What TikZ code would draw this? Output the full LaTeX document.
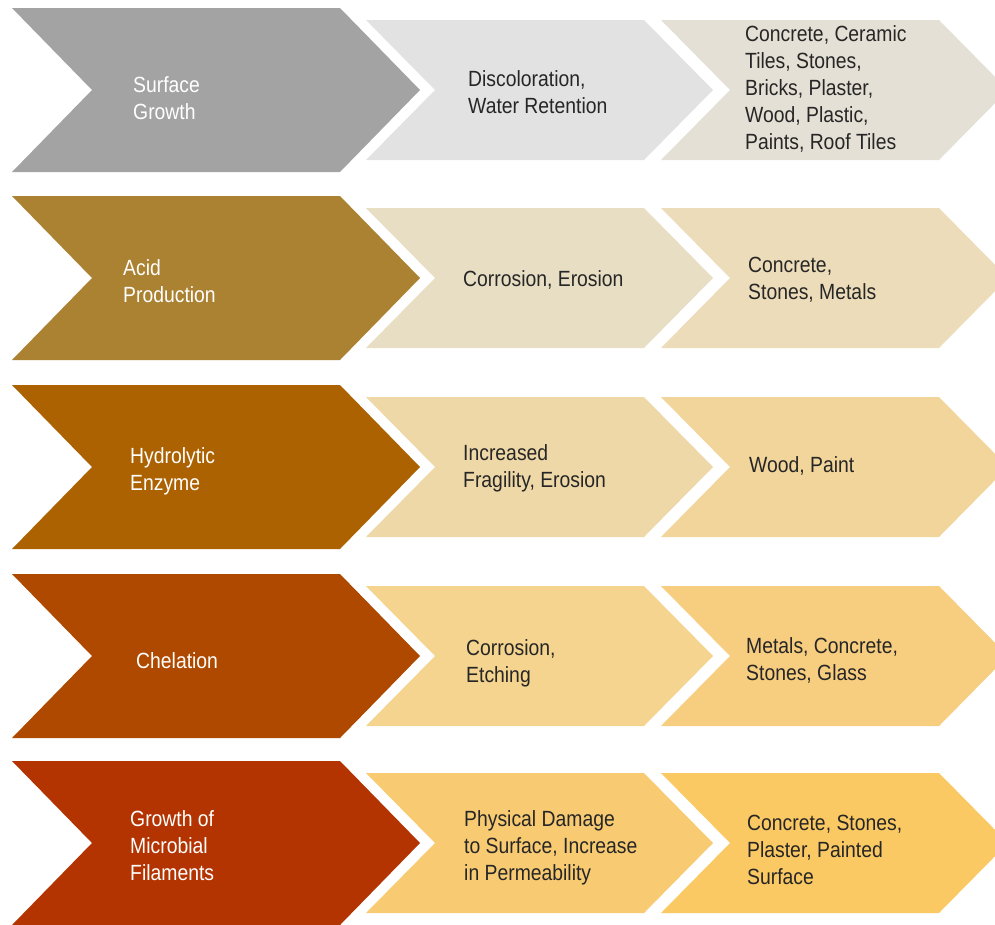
\documentclass[tikz,border=0pt]{standalone}
\usepackage{fontspec}
\newfontfamily\labelfont{Liberation Sans}[FakeStretch=0.88]
\begin{document}
\begin{tikzpicture}[x=1pt,y=-1pt,
  lbl/.style={inner sep=0pt, anchor=base west, align=left,
    font=\labelfont\fontsize{22}{26.8}\selectfont},
  leadlbl/.style={lbl, text=white},
  sublbl/.style={lbl, text=black!85}]
% colours of the five rows
\definecolor{bA}{HTML}{A3A3A3}\definecolor{mA}{HTML}{E2E2E2}\definecolor{rA}{HTML}{E5E0D5}
\definecolor{bB}{HTML}{AB8231}\definecolor{mB}{HTML}{E8DEC4}\definecolor{rB}{HTML}{EDDCB9}
\definecolor{bC}{HTML}{AC6200}\definecolor{mC}{HTML}{EFD8A7}\definecolor{rC}{HTML}{F1D59B}
\definecolor{bD}{HTML}{AF4900}\definecolor{mD}{HTML}{F4D48E}\definecolor{rD}{HTML}{F7CD80}
\definecolor{bE}{HTML}{B33400}\definecolor{mE}{HTML}{F8CB73}\definecolor{rE}{HTML}{FBC963}
\useasboundingbox (0,0) rectangle (995,924);
\clip (0,0) rectangle (995,924);
% one row of chevrons: centre y, three colours
\foreach \yc/\cb/\cm/\cr in {90/bA/mA/rA, 278/bB/mB/rB, 467/bC/mC/rC, 656/bD/mD/rD, 843/bE/mE/rE}{
  \fill[\cb] (12,\yc-82) -- (340,\yc-82) -- (420,\yc) -- (340,\yc+82)
     -- (12,\yc+82) -- (92,\yc) -- cycle;
  \fill[\cm] (366,\yc-70) -- (644,\yc-70) -- (713,\yc) -- (644,\yc+70)
     -- (366,\yc+70) -- (435,\yc) -- cycle;
  \fill[\cr] (661,\yc-70) -- (939,\yc-70) -- (1008,\yc) -- (939,\yc+70)
     -- (661,\yc+70) -- (730,\yc) -- cycle;
}
% labels are anchored at the baseline of their last line
% row 1
\node[leadlbl] (surface) at (133,119) {Surface\\Growth};
\node[sublbl] (discol) at (468,113) {Discoloration,\\Water Retention};
\node[sublbl] (matA) at (745,149) {Concrete, Ceramic\\Tiles, Stones,\\Bricks, Plaster,\\Wood, Plastic,\\Paints, Roof Tiles};
% row 2
\node[leadlbl] (acid) at (123,302) {Acid\\Production};
\node[sublbl] (corrB) at (463,286) {Corrosion, Erosion};
\node[sublbl] (matB) at (748,299) {Concrete,\\Stones, Metals};
% row 3
\node[leadlbl] (hydro) at (130,490) {Hydrolytic\\Enzyme};
\node[sublbl] (fragil) at (463,487) {Increased\\Fragility, Erosion};
\node[sublbl] (matC) at (749,472) {Wood, Paint};
% row 4
\node[leadlbl] (chel) at (136,668) {Chelation};
\node[sublbl] (corrD) at (466,682) {Corrosion,\\Etching};
\node[sublbl] (matD) at (746,680) {Metals, Concrete,\\Stones, Glass};
% row 5
\node[leadlbl] (filam) at (130,880) {Growth of\\Microbial\\Filaments};
\node[sublbl] (damage) at (464,880) {Physical Damage\\to Surface, Increase\\in Permeability};
\node[sublbl] (matE) at (747,884) {Concrete, Stones,\\Plaster, Painted\\Surface};
\end{tikzpicture}
\end{document}
